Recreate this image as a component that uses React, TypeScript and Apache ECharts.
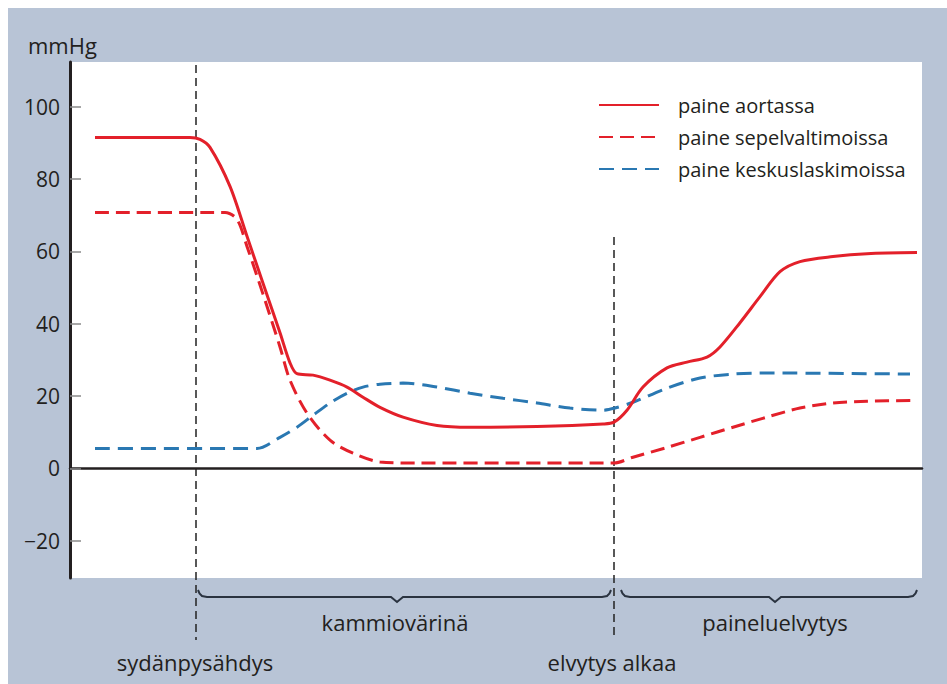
import React, { useEffect, useRef } from "react";
import * as echarts from "echarts";

// Y axis ticks (mmHg)
const yTicks = [-20, 0, 20, 40, 60, 80, 100];

// Series names
const seriesNames = ["paine aortassa", "paine sepelvaltimoissa", "paine keskuslaskimoissa"];

// Time axis (arbitrary units), events
const timeMax = 852;
const arrestTime = 126; // sydänpysähdys
const cprTime = 544; // elvytys alkaa
const phaseLabels = ["kammiovärinä", "paineluelvytys"];
const eventLabels = ["sydänpysähdys", "elvytys alkaa"];

// Aortic pressure
const aortaTime = [25, 120, 130, 140, 160, 177, 193, 210, 220, 227, 243, 260, 277, 293, 310, 333, 367, 400, 467, 533, 544, 557, 573, 597, 617, 637, 650, 670, 690, 710, 730, 763, 797, 847];
const aortaValue = [91.5, 91.5, 91, 88.8, 78, 64.2, 51.2, 37.5, 29.2, 26.2, 25.8, 24.4, 22.5, 19.7, 16.9, 14.2, 11.9, 11.4, 11.6, 12.3, 12.8, 16.1, 22.5, 27.8, 29.4, 30.8, 33.6, 40.3, 47.5, 54.4, 57.2, 58.6, 59.4, 59.7];

// Coronary pressure
const coronaryTime = [25, 155, 167, 177, 193, 210, 220, 237, 260, 283, 310, 350, 450, 544, 563, 597, 630, 663, 697, 730, 763, 797, 843];
const coronaryValue = [70.8, 70.8, 68.9, 61.4, 48.2, 33.6, 24.4, 15.3, 7.8, 4.2, 1.8, 1.5, 1.5, 1.5, 3.1, 5.8, 8.6, 11.4, 14.2, 16.7, 18.1, 18.6, 18.8];

// Central venous pressure
const venousTime = [25, 187, 210, 227, 243, 260, 277, 293, 310, 333, 367, 400, 433, 467, 500, 533, 545, 563, 597, 630, 663, 697, 840];
const venousValue = [5.5, 5.5, 8.6, 11.4, 14.7, 18.1, 20.8, 22.5, 23.3, 23.6, 22.5, 20.8, 19.4, 18.1, 16.7, 16.1, 16.7, 18.3, 22.2, 25, 26.1, 26.4, 26.1];

const RED = "#e3202a";
const BLUE = "#2a78b2";
const INK = "#231f20";
const FONT = "Open Sans";

const zip = (t: number[], v: number[]) => t.map((x, i) => [x, v[i]]);

export default function App() {
  const ref = useRef<HTMLDivElement>(null);

  useEffect(() => {
    if (!ref.current) return;
    const chart = echarts.init(ref.current, null, { renderer: "svg" });
    const gridTop = 54;
    const gridBottom = 106;
    const H = 676;

    chart.setOption({
      animation: false,
      backgroundColor: "transparent",
      grid: {
        left: 62,
        right: 25,
        top: gridTop,
        bottom: gridBottom,
        show: true,
        backgroundColor: "#ffffff",
        borderWidth: 0,
      },
      legend: {
        orient: "vertical",
        left: 585,
        top: 82,
        itemWidth: 60,
        itemHeight: 14,
        itemGap: 12,
        itemStyle: { opacity: 0 },
        textStyle: { fontSize: 20, fontFamily: FONT, color: INK, padding: [0, 0, 0, 14] },
        data: seriesNames,
      },
      xAxis: {
        type: "value",
        min: 0,
        max: timeMax,
        axisLine: { show: true, onZero: true, lineStyle: { color: INK, width: 2.5 } },
        axisTick: { show: false },
        axisLabel: { show: false },
        splitLine: { show: false },
      },
      yAxis: {
        type: "value",
        min: -30.3,
        max: 112.4,
        axisLine: { show: true, onZero: false, lineStyle: { color: INK, width: 3 } },
        axisTick: {
          show: true,
          inside: true,
          length: 11,
          customValues: yTicks,
          lineStyle: { color: "#8a8a8a", width: 1.5 },
        },
        axisLabel: {
          show: true,
          customValues: yTicks,
          margin: 10,
          fontSize: 21,
          fontFamily: FONT,
          color: INK,
          formatter: (v: number) => (v < 0 ? "\u2212" + Math.abs(v) : String(v)),
        },
        splitLine: { show: false },
      },
      series: [
        {
          name: seriesNames[0],
          type: "line",
          data: zip(aortaTime, aortaValue),
          smooth: 0.3,
          symbol: "none",
          lineStyle: { color: RED, width: 3 },
          itemStyle: { color: RED },
          z: 4,
        },
        {
          name: seriesNames[1],
          type: "line",
          data: zip(coronaryTime, coronaryValue),
          smooth: 0.3,
          symbol: "none",
          lineStyle: { color: RED, width: 3, type: [14, 7] },
          itemStyle: { color: RED },
          z: 3,
        },
        {
          name: seriesNames[2],
          type: "line",
          data: zip(venousTime, venousValue),
          smooth: 0.3,
          symbol: "none",
          lineStyle: { color: BLUE, width: 3, type: [15, 8] },
          itemStyle: { color: BLUE },
          z: 3,
        },
      ],
    });

    const px = (t: number) => chart.convertToPixel({ xAxisIndex: 0 }, t) as number;
    const py = (v: number) => chart.convertToPixel({ yAxisIndex: 0 }, v) as number;

    const xArrest = px(arrestTime);
    const xCpr = px(cprTime);
    const xEnd = px(timeMax);
    const vBottom = H - 44;
    const braceY = H - gridBottom + 19;

    const brace = (a: number, b: number, c: number) => ({
      type: "polyline",
      silent: true,
      shape: {
        points: [
          [a, braceY - 7],
          [a + 1.5, braceY - 3.5],
          [a + 4, braceY - 1],
          [a + 9, braceY],
          [c - 6, braceY],
          [c, braceY + 5],
          [c + 6, braceY],
          [b - 9, braceY],
          [b - 4, braceY - 1],
          [b - 1.5, braceY - 3.5],
          [b, braceY - 7],
        ],
      },
      style: { stroke: "#2a3340", lineWidth: 2, fill: null },
    });

    const textEl = (text: string, x: number, y: number, align = "center") => ({
      type: "text",
      silent: true,
      style: {
        text,
        x,
        y,
        textAlign: align,
        textVerticalAlign: "middle",
        fontSize: 22,
        fontFamily: FONT,
        fill: INK,
      },
    });

    const b1a = xArrest + 2;
    const b1b = xCpr - 3;
    const b2a = xCpr + 7;
    const b2b = xEnd - 5;

    chart.setOption({
      graphic: [
        {
          type: "line",
          silent: true,
          shape: { x1: xArrest, y1: gridTop + 3, x2: xArrest, y2: vBottom },
          style: { stroke: "#222", lineWidth: 1.5, lineDash: [8, 5] },
        },
        {
          type: "line",
          silent: true,
          shape: { x1: xCpr, y1: py(64), x2: xCpr, y2: vBottom },
          style: { stroke: "#222", lineWidth: 1.5, lineDash: [8, 5] },
        },
        brace(b1a, b1b, px(327)),
        brace(b2a, b2b, px(705)),
        textEl(phaseLabels[0], px(325), braceY + 25),
        textEl(phaseLabels[1], px(705), braceY + 25),
        textEl(eventLabels[0], xArrest - 1, braceY + 65),
        textEl(eventLabels[1], xCpr - 2, braceY + 65),
        textEl("mmHg", 20, 37, "left"),
      ],
    });

    return () => chart.dispose();
  }, []);

  return (
    <div
      style={{
        position: "absolute",
        left: 8,
        top: 8,
        width: 939,
        height: 676,
        background: "#b8c4d6",
      }}
    >
      <div ref={ref} style={{ width: 939, height: 676 }} />
    </div>
  );
}
